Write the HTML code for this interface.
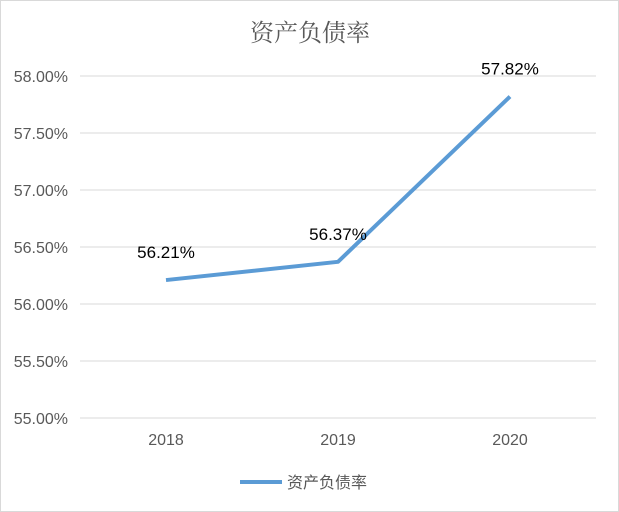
<!DOCTYPE html>
<html><head><meta charset="utf-8">
<style>
body{margin:0;background:#fff;}
svg{display:block;font-family:"Liberation Sans","Noto Sans CJK SC",sans-serif;}
</style></head>
<body>
<svg id="chart" width="619" height="512">
<rect x="0.5" y="0.5" width="618" height="511" fill="#fff" stroke="#d9d9d9"/>
<text x="310" y="41" text-anchor="middle" font-size="24" fill="#595959" font-family="'Liberation Serif','Noto Serif CJK SC',serif">资产负债率</text>
<g id="grid"></g><g id="yticks"></g><g id="xticks"></g><g id="series"></g>
<line x1="240" y1="482" x2="282" y2="482" stroke="#5b9bd5" stroke-width="4"/>
<text x="287" y="488" font-size="16" fill="#595959">资产负债率</text>
</svg>
<script>
const categories=["2018","2019","2020"];
const values=[56.21,56.37,57.82];
const valueLabels=["56.21%","56.37%","57.82%"];
const yTicks=[55.0,55.5,56.0,56.5,57.0,57.5,58.0];
const ns="http://www.w3.org/2000/svg";
const x0=80,x1=596,yMin=55,yMax=58,yTop=76,yBot=418;
const y=v=>yBot-(v-yMin)/(yMax-yMin)*(yBot-yTop);
const x=i=>x0+(i+0.5)*(x1-x0)/categories.length;
function mk(t,a,p){const e=document.createElementNS(ns,t);for(const k in a)e.setAttribute(k,a[k]);p.appendChild(e);return e;}
const grid=document.getElementById('grid'),yt=document.getElementById('yticks'),xt=document.getElementById('xticks'),se=document.getElementById('series');
yTicks.forEach(v=>{
 const l=mk('line',{x1:x0,x2:x1,y1:y(v),y2:y(v),stroke:'#d9d9d9','stroke-width':1},grid);
 
 
 const t=mk('text',{x:68,y:y(v)+6,'text-anchor':'end','font-size':16,fill:'#595959'},yt);
 t.textContent=v.toFixed(2)+'%';
 
 
});
categories.forEach((c,i)=>{
 const t=mk('text',{x:x(i),y:445,'text-anchor':'middle','font-size':16,fill:'#595959'},xt);
 t.textContent=c;
 
 
});
const p=mk('polyline',{points:values.map((v,i)=>x(i)+','+y(v)).join(' '),fill:'none',stroke:'#5b9bd5','stroke-width':4,'stroke-linejoin':'round'},se);


values.forEach((v,i)=>{
 const t=mk('text',{x:x(i),y:y(v)-22,'text-anchor':'middle','font-size':17,fill:'#000'},se);
 t.textContent=valueLabels[i];
 
 
});
</script>
</body></html>
